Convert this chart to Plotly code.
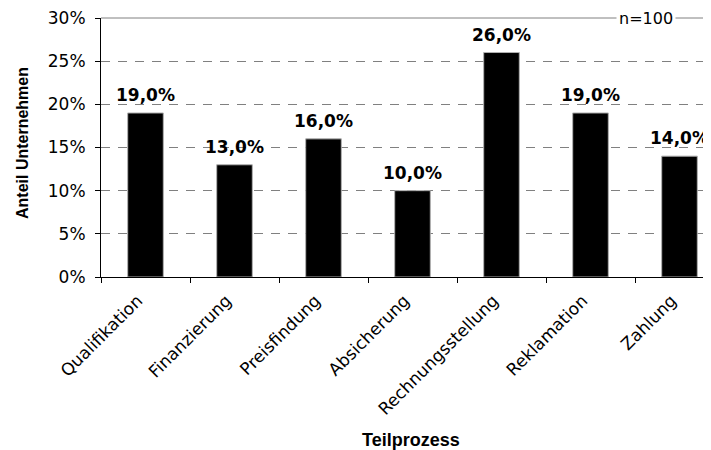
import plotly.graph_objects as go

categories = ["Qualifikation", "Finanzierung", "Preisfindung", "Absicherung",
              "Rechnungsstellung", "Reklamation", "Zahlung"]
values = [19.0, 13.0, 16.0, 10.0, 26.0, 19.0, 14.0]
y_ticks = [0, 5, 10, 15, 20, 25, 30]
y_ticklabels = [f"{t}%" for t in y_ticks]
bar_labels = [f"{v:.1f}".replace(".", ",") + "%" for v in values]

# page body has an 8px default margin; compensate so plot sits like the reference
OFF = 8
W, H = 711 - OFF, 450 - OFF
L, R, T = 101 - OFF, 0, 18 - OFF
plot_w = W - L - R
plot_h = 277 - 18
B = H - T - plot_h

fig = go.Figure()
fig.add_trace(go.Bar(
    x=categories, y=values, width=0.40,
    marker=dict(color="#000000", line=dict(color="#b0b0b0", width=1)),
    hoverinfo="skip", showlegend=False,
))

annotations = []
for c, v, lab in zip(categories, values, bar_labels):
    annotations.append(dict(
        x=c, y=v, xref="x", yref="y", text=f"<b>{lab}</b>", showarrow=False,
        xanchor="center", yanchor="bottom", yshift=6,
        font=dict(family="DejaVu Sans", size=17, color="#000000"),
    ))

# n=100 label on top line
annotations.append(dict(
    x=(646 - 101) / plot_w, y=1, xref="paper", yref="paper", text="n=100",
    showarrow=False, bgcolor="#ffffff", borderpad=2,
    xanchor="center", yanchor="middle",
    font=dict(family="DejaVu Sans", size=16, color="#000000"),
))
# axis titles
annotations.append(dict(
    x=(411 - 101) / plot_w, y=-(440 - 277) / plot_h, xref="paper", yref="paper",
    text="<b>Teilprozess</b>", showarrow=False, xanchor="center", yanchor="middle",
    font=dict(family="Liberation Sans", size=18, color="#000000"),
))
annotations.append(dict(
    x=(22 - 101) / plot_w, y=(277 - 143) / plot_h, xref="paper", yref="paper",
    text="<b>Anteil Unternehmen</b>", showarrow=False, textangle=-90,
    xanchor="center", yanchor="middle",
    font=dict(family="Liberation Sans", size=16, color="#000000"),
))

fig.update_layout(
    width=W, height=H,
    margin=dict(l=L, r=R, t=T, b=B, autoexpand=False),
    paper_bgcolor="#ffffff", plot_bgcolor="#ffffff",
    annotations=annotations,
    shapes=[dict(type="line", xref="paper", yref="paper", x0=0, x1=1, y0=1, y1=1,
                 line=dict(color="#808080", width=1), layer="below")],
)

fig.update_xaxes(
    type="category", range=[-0.5, -0.5 + plot_w / 89.0],
    tickangle=-45, tickson="boundaries", ticks="outside", ticklen=5,
    tickcolor="#000000", showline=True, linecolor="#000000", linewidth=1,
    showgrid=False, ticklabelstandoff=6, ticklabelshift=-8,
    tickfont=dict(family="DejaVu Sans", size=17, color="#000000"),
)
fig.update_yaxes(
    range=[0, 30], tickvals=y_ticks, ticktext=y_ticklabels,
    ticks="outside", ticklen=5, tickcolor="#000000",
    showline=True, linecolor="#000000", linewidth=1,
    showgrid=True, gridcolor="#808080", gridwidth=1, griddash="9px,8px",
    zeroline=False, ticklabelstandoff=6, ticklabeloverflow="allow",
    tickfont=dict(family="DejaVu Sans", size=17, color="#000000"),
)

fig.write_html("out.html")
